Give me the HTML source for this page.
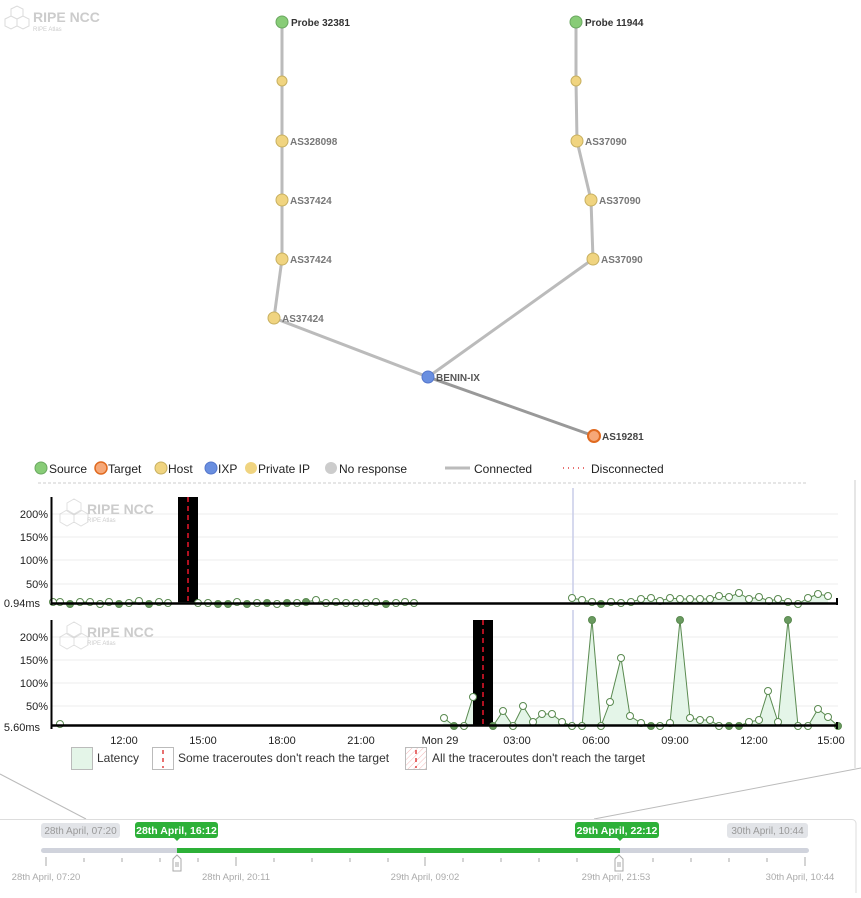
<!DOCTYPE html>
<html><head><meta charset="utf-8"><style>
body{margin:0;background:#fff;width:861px;height:893px;overflow:hidden;font-family:"Liberation Sans",Arial,sans-serif}
svg text{font-family:"Liberation Sans",Arial,sans-serif}
</style></head><body>
<svg width="861" height="893" viewBox="0 0 861 893" xmlns="http://www.w3.org/2000/svg">
<!-- logo -->
<g opacity="0.35" fill="none" stroke="#999" stroke-width="1">
<path d="M11 9 l6 -3 l6 3 v7 l-6 3 l-6 -3z M5 19 l6 -3 l6 3 v7 l-6 3 l-6 -3z M17 19 l6 -3 l6 3 v7 l-6 3 l-6 -3z"/>
</g>
<text x="33" y="22" font-size="14" font-weight="bold" fill="#ccc">RIPE NCC</text>
<text x="33" y="31" font-size="6" fill="#ccc">RIPE Atlas</text>
<!-- graph edges -->
<g stroke="#bbb" stroke-width="3" fill="none">
<polyline points="282,22 282,81 282,141 282,200 282,259 274,318 428,377"/>
<polyline points="576,22 576,81 577,141 591,200 593,259 428,377"/>
</g>
<line x1="428" y1="377" x2="594" y2="436" stroke="#999" stroke-width="3"/>
<g stroke="#c8b060" stroke-width="1" fill="#f0d480">
<circle cx="282" cy="81" r="5"/><circle cx="282" cy="141" r="6"/><circle cx="282" cy="200" r="6"/><circle cx="282" cy="259" r="6"/><circle cx="274" cy="318" r="6"/>
<circle cx="576" cy="81" r="5"/><circle cx="577" cy="141" r="6"/><circle cx="591" cy="200" r="6"/><circle cx="593" cy="259" r="6"/>
</g>
<circle cx="282" cy="22" r="6" fill="#88cc77" stroke="#6aa860"/>
<circle cx="576" cy="22" r="6" fill="#88cc77" stroke="#6aa860"/>
<circle cx="428" cy="377" r="6" fill="#6a8fe0" stroke="#5577cc"/>
<circle cx="594" cy="436" r="6" fill="#f6a878" stroke="#e06a20" stroke-width="2"/>
<g font-size="10" font-weight="bold" fill="#777">
<text x="291" y="26" fill="#333">Probe 32381</text>
<text x="585" y="26" fill="#333">Probe 11944</text>
<text x="290" y="145">AS328098</text><text x="290" y="204">AS37424</text><text x="290" y="263">AS37424</text><text x="282" y="322">AS37424</text>
<text x="585" y="145">AS37090</text><text x="599" y="204">AS37090</text><text x="601" y="263">AS37090</text>
<text x="436" y="381" fill="#555">BENIN-IX</text><text x="602" y="440" fill="#444">AS19281</text>
</g>
<!-- legend -->
<g font-size="12" fill="#222">
<circle cx="41" cy="468" r="6" fill="#88cc77" stroke="#6aa860"/><text x="49" y="473">Source</text>
<circle cx="101" cy="468" r="6" fill="#f6a878" stroke="#e06a20" stroke-width="1.5"/><text x="108" y="473">Target</text>
<circle cx="161" cy="468" r="6" fill="#f0d480" stroke="#c8b060"/><text x="168" y="473">Host</text>
<circle cx="211" cy="468" r="6" fill="#6a8fe0" stroke="#5577cc"/><text x="218" y="473">IXP</text>
<circle cx="251" cy="468" r="6" fill="#f0d480"/><text x="258" y="473">Private IP</text>
<circle cx="331" cy="468" r="6" fill="#ccc"/><text x="339" y="473">No response</text>
<line x1="445" y1="468" x2="470" y2="468" stroke="#bbb" stroke-width="3"/><text x="474" y="473">Connected</text>
<line x1="563" y1="468" x2="588" y2="468" stroke="#e04040" stroke-width="1.5" stroke-dasharray="1,4"/><text x="591" y="473">Disconnected</text>
</g>
<line x1="38" y1="483" x2="806" y2="483" stroke="#ccc" stroke-dasharray="3,2"/>
<line x1="855" y1="480" x2="855" y2="768" stroke="#ccc"/>
<!-- chart 1 -->
<g stroke="#eee"><line x1="51" y1="514" x2="838" y2="514"/><line x1="51" y1="537" x2="838" y2="537"/><line x1="51" y1="560" x2="838" y2="560"/><line x1="51" y1="584" x2="838" y2="584"/>
<line x1="51" y1="637" x2="838" y2="637"/><line x1="51" y1="660" x2="838" y2="660"/><line x1="51" y1="683" x2="838" y2="683"/><line x1="51" y1="706" x2="838" y2="706"/></g>
<g opacity="0.3" fill="none" stroke="#999"><path d="M67 503 l7 -4 l7 4 v8 l-7 4 l-7 -4z M60 514 l7 -4 l7 4 v8 l-7 4 l-7 -4z M74 514 l7 -4 l7 4 v8 l-7 4 l-7 -4z"/>
<path d="M67 626 l7 -4 l7 4 v8 l-7 4 l-7 -4z M60 637 l7 -4 l7 4 v8 l-7 4 l-7 -4z M74 637 l7 -4 l7 4 v8 l-7 4 l-7 -4z"/></g>
<g font-weight="bold" fill="#ccc"><text x="87" y="514" font-size="14">RIPE NCC</text><text x="87" y="637" font-size="14">RIPE NCC</text></g>
<g fill="#ccc" font-size="6"><text x="87" y="522">RIPE Atlas</text><text x="87" y="645">RIPE Atlas</text></g>
<g font-size="11" fill="#222" text-anchor="end">
<text x="48" y="518">200%</text><text x="48" y="541">150%</text><text x="48" y="564">100%</text><text x="48" y="588">50%</text><text x="40" y="607">0.94ms</text>
<text x="48" y="641">200%</text><text x="48" y="664">150%</text><text x="48" y="687">100%</text><text x="48" y="710">50%</text><text x="40" y="731">5.60ms</text>
</g>
<rect x="178" y="497" width="20" height="106" fill="#000"/>
<line x1="188" y1="497" x2="188" y2="603" stroke="#b01020" stroke-width="2" stroke-dasharray="5,4"/>
<rect x="473" y="620" width="20" height="105" fill="#000"/>
<line x1="483" y1="620" x2="483" y2="725" stroke="#b01020" stroke-width="2" stroke-dasharray="5,4"/>
<line x1="573" y1="488" x2="573" y2="603" stroke="#c8cce8" stroke-width="1.5"/>
<line x1="573" y1="610" x2="573" y2="725" stroke="#c8cce8" stroke-width="1.5"/>
<polyline points="53,602 60,602 70,604 80,602 90,602 100,604 109,602 119,604 129,603 139,601 149,604 159,602 168,603 198,603 208,603 218,604 228,604 237,602 247,604 257,603 267,603 277,604 287,603 297,603 306,602 316,600 326,603 336,602 346,603 356,603 366,603 376,602 386,604 396,603 405,602 414,603" fill="#e4f5e8" stroke="#5a8a50"/>
<polygon points="572,603 572,598 582,600 592,602 601,604 611,602 621,603 631,602 641,599 651,598 660,601 670,598 680,599 690,599 700,599 710,599 719,596 729,597 739,593 749,599 759,597 769,601 778,599 788,602 798,604 808,598 818,594 828,596 828,603" fill="#e4f5e8"/>
<polyline points="572,598 582,600 592,602 601,604 611,602 621,603 631,602 641,599 651,598 660,601 670,598 680,599 690,599 700,599 710,599 719,596 729,597 739,593 749,599 759,597 769,601 778,599 788,602 798,604 808,598 818,594 828,596" fill="none" stroke="#5a8a50"/>
<g fill="#fff" stroke="#5a8a50">
<circle cx="53" cy="602" r="3.5"/><circle cx="60" cy="602" r="3.5"/><circle cx="70" cy="604" r="3.5" fill="#6a9a60"/><circle cx="80" cy="602" r="3.5"/><circle cx="90" cy="602" r="3.5"/><circle cx="100" cy="604" r="3.5"/><circle cx="109" cy="602" r="3.5"/><circle cx="119" cy="604" r="3.5" fill="#6a9a60"/><circle cx="129" cy="603" r="3.5"/><circle cx="139" cy="601" r="3.5"/><circle cx="149" cy="604" r="3.5" fill="#6a9a60"/><circle cx="159" cy="602" r="3.5"/><circle cx="168" cy="603" r="3.5"/>
<circle cx="198" cy="603" r="3.5"/><circle cx="208" cy="603" r="3.5"/><circle cx="218" cy="604" r="3.5" fill="#6a9a60"/><circle cx="228" cy="604" r="3.5" fill="#6a9a60"/><circle cx="237" cy="602" r="3.5"/><circle cx="247" cy="604" r="3.5" fill="#6a9a60"/><circle cx="257" cy="603" r="3.5"/><circle cx="267" cy="603" r="3.5" fill="#6a9a60"/><circle cx="277" cy="604" r="3.5"/><circle cx="287" cy="603" r="3.5" fill="#6a9a60"/><circle cx="297" cy="603" r="3.5"/><circle cx="306" cy="602" r="3.5" fill="#6a9a60"/><circle cx="316" cy="600" r="3.5"/><circle cx="326" cy="603" r="3.5"/><circle cx="336" cy="602" r="3.5"/><circle cx="346" cy="603" r="3.5"/><circle cx="356" cy="603" r="3.5"/><circle cx="366" cy="603" r="3.5"/><circle cx="376" cy="602" r="3.5"/><circle cx="386" cy="604" r="3.5" fill="#6a9a60"/><circle cx="396" cy="603" r="3.5"/><circle cx="405" cy="602" r="3.5"/><circle cx="414" cy="603" r="3.5"/>
<circle cx="572" cy="598" r="3.5"/><circle cx="582" cy="600" r="3.5"/><circle cx="592" cy="602" r="3.5"/><circle cx="601" cy="604" r="3.5" fill="#6a9a60"/><circle cx="611" cy="602" r="3.5"/><circle cx="621" cy="603" r="3.5"/><circle cx="631" cy="602" r="3.5"/><circle cx="641" cy="599" r="3.5"/><circle cx="651" cy="598" r="3.5"/><circle cx="660" cy="601" r="3.5"/><circle cx="670" cy="598" r="3.5"/><circle cx="680" cy="599" r="3.5"/><circle cx="690" cy="599" r="3.5"/><circle cx="700" cy="599" r="3.5"/><circle cx="710" cy="599" r="3.5"/><circle cx="719" cy="596" r="3.5"/><circle cx="729" cy="597" r="3.5"/><circle cx="739" cy="593" r="3.5"/><circle cx="749" cy="599" r="3.5"/><circle cx="759" cy="597" r="3.5"/><circle cx="769" cy="601" r="3.5"/><circle cx="778" cy="599" r="3.5"/><circle cx="788" cy="602" r="3.5"/><circle cx="798" cy="604" r="3.5"/><circle cx="808" cy="598" r="3.5"/><circle cx="818" cy="594" r="3.5"/><circle cx="828" cy="596" r="3.5"/>
</g>
<line x1="51" y1="603.5" x2="838" y2="603.5" stroke="#000" stroke-width="2.5"/>
<line x1="51.5" y1="497" x2="51.5" y2="605" stroke="#000" stroke-width="2"/>
<line x1="837" y1="598" x2="837" y2="605" stroke="#000" stroke-width="2"/>
<!-- chart 2 -->
<polygon points="443,725 444,718 454,726 464,726 473,697 473,725" fill="#e4f5e8"/>
<polygon points="493,725 503,711 513,726 523,706 533,722 542,714 552,714 562,722 572,726 582,726 592,620 601,726 610,702 621,658 630,716 641,723 651,726 660,726 670,723 680,620 690,718 700,720 710,720 719,726 729,726 739,726 749,722 759,720 768,691 778,722 788,620 798,726 808,726 818,709 828,717 838,726" fill="#e4f5e8"/>
<polyline points="444,718 454,726 464,726 473,697" fill="none" stroke="#5a8a50"/>
<polyline points="493,726 503,711 513,726 523,706 533,722 542,714 552,714 562,722 572,726 582,726 592,620 601,726 610,702 621,658 630,716 641,723 651,726 660,726 670,723 680,620 690,718 700,720 710,720 719,726 729,726 739,726 749,722 759,720 768,691 778,722 788,620 798,726 808,726 818,709 828,717 838,726" fill="none" stroke="#5a8a50"/>
<g fill="#fff" stroke="#5a8a50">
<circle cx="60" cy="724" r="3.5"/>
<circle cx="444" cy="718" r="3.5"/><circle cx="454" cy="726" r="3.5" fill="#6a9a60"/><circle cx="464" cy="726" r="3.5"/><circle cx="473" cy="697" r="3.5"/><circle cx="493" cy="726" r="3.5" fill="#6a9a60"/><circle cx="503" cy="711" r="3.5"/><circle cx="513" cy="726" r="3.5"/><circle cx="523" cy="706" r="3.5"/><circle cx="533" cy="722" r="3.5"/><circle cx="542" cy="714" r="3.5"/><circle cx="552" cy="714" r="3.5"/><circle cx="562" cy="722" r="3.5"/><circle cx="572" cy="726" r="3.5"/><circle cx="582" cy="726" r="3.5"/><circle cx="592" cy="620" r="3.5" fill="#6a9a60"/><circle cx="601" cy="726" r="3.5"/><circle cx="610" cy="702" r="3.5"/><circle cx="621" cy="658" r="3.5"/><circle cx="630" cy="716" r="3.5"/><circle cx="641" cy="723" r="3.5"/><circle cx="651" cy="726" r="3.5" fill="#6a9a60"/><circle cx="660" cy="726" r="3.5"/><circle cx="670" cy="723" r="3.5"/><circle cx="680" cy="620" r="3.5" fill="#6a9a60"/><circle cx="690" cy="718" r="3.5"/><circle cx="700" cy="720" r="3.5"/><circle cx="710" cy="720" r="3.5"/><circle cx="719" cy="726" r="3.5"/><circle cx="729" cy="726" r="3.5" fill="#6a9a60"/><circle cx="739" cy="726" r="3.5" fill="#6a9a60"/><circle cx="749" cy="722" r="3.5"/><circle cx="759" cy="720" r="3.5"/><circle cx="768" cy="691" r="3.5"/><circle cx="778" cy="722" r="3.5"/><circle cx="788" cy="620" r="3.5" fill="#6a9a60"/><circle cx="798" cy="726" r="3.5"/><circle cx="808" cy="726" r="3.5"/><circle cx="818" cy="709" r="3.5"/><circle cx="828" cy="717" r="3.5"/><circle cx="838" cy="726" r="3.5" fill="#6a9a60"/>
</g>
<line x1="51" y1="725.5" x2="838" y2="725.5" stroke="#000" stroke-width="2.5"/>
<line x1="51.5" y1="620" x2="51.5" y2="729" stroke="#000" stroke-width="2"/>
<line x1="837" y1="722" x2="837" y2="729" stroke="#000" stroke-width="2"/>
<g font-size="11" fill="#222" text-anchor="middle">
<text x="124" y="744">12:00</text><text x="203" y="744">15:00</text><text x="282" y="744">18:00</text><text x="361" y="744">21:00</text><text x="440" y="744">Mon 29</text><text x="517" y="744">03:00</text><text x="596" y="744">06:00</text><text x="675" y="744">09:00</text><text x="754" y="744">12:00</text><text x="831" y="744">15:00</text>
</g>
<!-- chart legend -->
<rect x="71.5" y="747.5" width="21" height="22" fill="#e4f5e8" stroke="#bbb"/>
<text x="97" y="762" font-size="12" fill="#333">Latency</text>
<rect x="152.5" y="747.5" width="21" height="22" fill="#fff" stroke="#bbb"/>
<line x1="163" y1="750" x2="163" y2="768" stroke="#e04040" stroke-width="1.5" stroke-dasharray="4,4"/>
<text x="178" y="762" font-size="12" fill="#333">Some traceroutes don't reach the target</text>
<defs><pattern id="h" width="4" height="4" patternUnits="userSpaceOnUse" patternTransform="rotate(45)"><line x1="0" y1="0" x2="0" y2="4" stroke="#f3b8b8" stroke-width="1"/></pattern></defs>
<rect x="405.5" y="747.5" width="21" height="22" fill="url(#h)" stroke="#bbb"/>
<line x1="416" y1="750" x2="416" y2="768" stroke="#e04040" stroke-width="1.5" stroke-dasharray="4,4"/>
<text x="432" y="762" font-size="12" fill="#333">All the traceroutes don't reach the target</text>
<!-- timeline -->
<polyline points="0,774 86,819" stroke="#bbb" fill="none"/>
<polyline points="861,768 594,819" stroke="#bbb" fill="none"/>
<path d="M0 819.5 H852 a4 4 0 0 1 4 4 V893" stroke="#ddd" fill="none"/>
<rect x="41" y="823" width="79" height="15" rx="3" fill="#e2e4e8"/>
<text x="80.5" y="834" font-size="10" fill="#999" text-anchor="middle">28th April, 07:20</text>
<rect x="727" y="823" width="81" height="15" rx="3" fill="#e2e4e8"/>
<text x="767.5" y="834" font-size="10" fill="#999" text-anchor="middle">30th April, 10:44</text>
<rect x="135" y="822" width="83" height="16" rx="3" fill="#2db038"/>
<path d="M174 838 l3 3 l3 -3z" fill="#2db038"/>
<text x="176.5" y="834" font-size="10.5" font-weight="bold" fill="#fff" text-anchor="middle">28th April, 16:12</text>
<rect x="575" y="822" width="84" height="16" rx="3" fill="#2db038"/>
<path d="M617 838 l3 3 l3 -3z" fill="#2db038"/>
<text x="617" y="834" font-size="10.5" font-weight="bold" fill="#fff" text-anchor="middle">29th April, 22:12</text>
<rect x="41" y="848" width="768" height="5" rx="2.5" fill="#d0d3dc"/>
<rect x="177" y="848" width="443" height="5" fill="#2db038"/>
<g stroke="#aaa">
<line x1="46" y1="857" x2="46" y2="866"/><line x1="84" y1="858" x2="84" y2="862"/><line x1="122" y1="858" x2="122" y2="862"/><line x1="160" y1="858" x2="160" y2="862"/><line x1="198" y1="858" x2="198" y2="862"/><line x1="236" y1="857" x2="236" y2="866"/><line x1="274" y1="858" x2="274" y2="862"/><line x1="312" y1="858" x2="312" y2="862"/><line x1="350" y1="858" x2="350" y2="862"/><line x1="388" y1="858" x2="388" y2="862"/><line x1="425" y1="857" x2="425" y2="866"/><line x1="463" y1="858" x2="463" y2="862"/><line x1="501" y1="858" x2="501" y2="862"/><line x1="539" y1="858" x2="539" y2="862"/><line x1="577" y1="858" x2="577" y2="862"/><line x1="616" y1="857" x2="616" y2="866"/><line x1="653" y1="858" x2="653" y2="862"/><line x1="691" y1="858" x2="691" y2="862"/><line x1="729" y1="858" x2="729" y2="862"/><line x1="767" y1="858" x2="767" y2="862"/><line x1="805" y1="857" x2="805" y2="866"/>
</g>
<g fill="#fff" stroke="#aaa"><path d="M173 859 l4 -4 l4 4 v12 h-8z"/><path d="M615 859 l4 -4 l4 4 v12 h-8z"/></g>
<g stroke="#aaa"><line x1="176" y1="862" x2="176" y2="867"/><line x1="178" y1="862" x2="178" y2="867"/><line x1="618" y1="862" x2="618" y2="867"/><line x1="620" y1="862" x2="620" y2="867"/></g>
<g font-size="9.5" fill="#aaa" text-anchor="middle">
<text x="46" y="880">28th April, 07:20</text><text x="236" y="880">28th April, 20:11</text><text x="425" y="880">29th April, 09:02</text><text x="616" y="880">29th April, 21:53</text><text x="800" y="880">30th April, 10:44</text>
</g>
</svg>
</body></html>
